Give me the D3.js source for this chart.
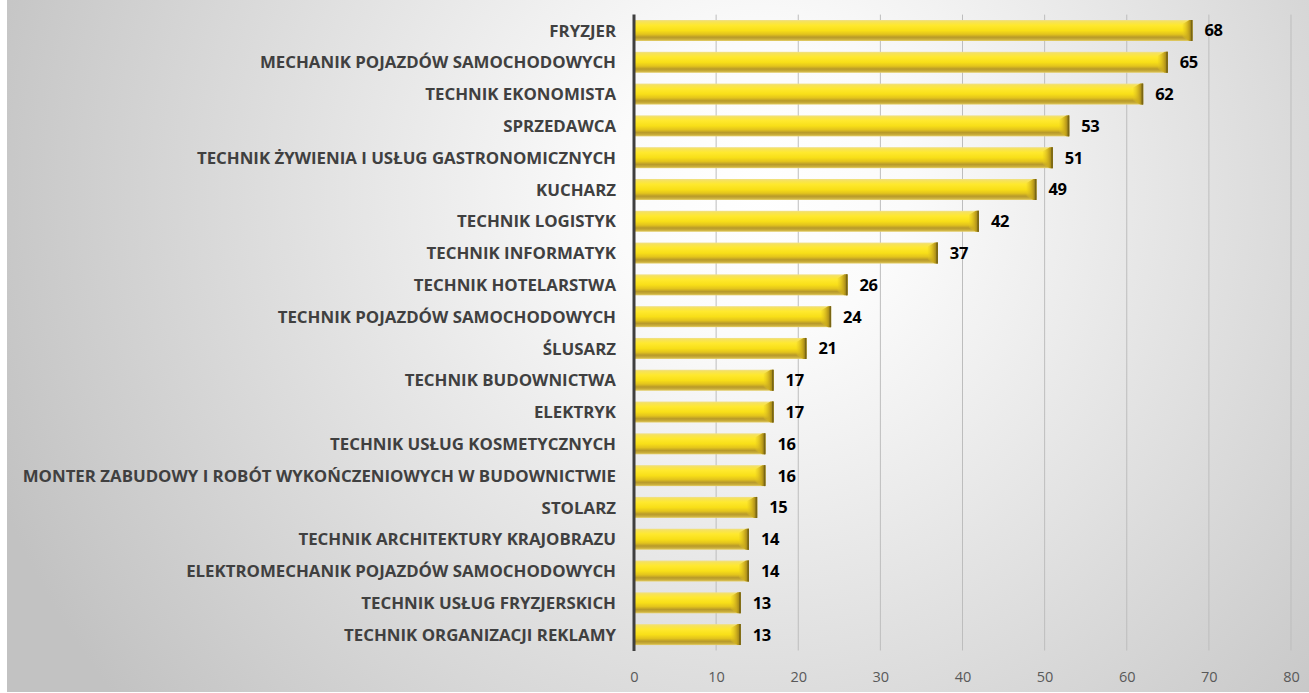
<!DOCTYPE html>
<html><head><meta charset="utf-8">
<script src="https://cdn.jsdelivr.net/npm/d3@7"></script>
<style>html,body{margin:0;padding:0;background:#fff;}svg{display:block;}</style>
</head><body>
<script>
const categories = [
  "FRYZJER",
  "MECHANIK POJAZDÓW SAMOCHODOWYCH",
  "TECHNIK EKONOMISTA",
  "SPRZEDAWCA",
  "TECHNIK ŻYWIENIA I USŁUG GASTRONOMICZNYCH",
  "KUCHARZ",
  "TECHNIK LOGISTYK",
  "TECHNIK INFORMATYK",
  "TECHNIK HOTELARSTWA",
  "TECHNIK POJAZDÓW SAMOCHODOWYCH",
  "ŚLUSARZ",
  "TECHNIK BUDOWNICTWA",
  "ELEKTRYK",
  "TECHNIK USŁUG KOSMETYCZNYCH",
  "MONTER ZABUDOWY I ROBÓT WYKOŃCZENIOWYCH W BUDOWNICTWIE",
  "STOLARZ",
  "TECHNIK ARCHITEKTURY KRAJOBRAZU",
  "ELEKTROMECHANIK POJAZDÓW SAMOCHODOWYCH",
  "TECHNIK USŁUG FRYZJERSKICH",
  "TECHNIK ORGANIZACJI REKLAMY"
];
const values = [68, 65, 62, 53, 51, 49, 42, 37, 26, 24, 21, 17, 17, 16, 16, 15, 14, 14, 13, 13];
const xTicks = [0, 10, 20, 30, 40, 50, 60, 70, 80];

const W = 1309, H = 693;
const svg = d3.select("body").append("svg").attr("width", W).attr("height", H);
const defs = svg.append("defs");

const bg = defs.append("radialGradient").attr("id", "bg")
  .attr("gradientUnits", "userSpaceOnUse")
  .attr("cx", 760).attr("cy", 190).attr("r", 820);
bg.append("stop").attr("offset", 0).attr("stop-color", "#ffffff");
bg.append("stop").attr("offset", 0.18).attr("stop-color", "#fbfbfb");
bg.append("stop").attr("offset", 1).attr("stop-color", "#c2c2c2");

const bar = defs.append("linearGradient").attr("id", "bar")
  .attr("x1", 0).attr("y1", 0).attr("x2", 0).attr("y2", 1);
[[0, "#efe08a"], [0.08, "#f6e25a"], [0.25, "#ffe92e"], [0.5, "#f8df18"],
 [0.68, "#e3c41c"], [0.82, "#b7992a"], [0.92, "#c9ad3a"], [1, "#e5cf6a"]]
  .forEach(([o, c]) => bar.append("stop").attr("offset", o).attr("stop-color", c));

const cap = defs.append("linearGradient").attr("id", "cap")
  .attr("x1", 0).attr("y1", 0).attr("x2", 1).attr("y2", 0);
cap.append("stop").attr("offset", 0).attr("stop-color", "#e8cc20").attr("stop-opacity", 0.2);
cap.append("stop").attr("offset", 0.6).attr("stop-color", "#c8a81c");
cap.append("stop").attr("offset", 1).attr("stop-color", "#8c7418");

svg.append("rect").attr("x", 7).attr("y", 0).attr("width", W - 7).attr("height", 692).attr("fill", "url(#bg)");

const x = d3.scaleLinear().domain([0, 80]).range([634, 1291]);
const y = d3.scaleBand().domain(categories).range([14.6, 650.5]).paddingInner(0.34).paddingOuter(0.17);

// gridlines
svg.append("g").selectAll("line").data(xTicks.filter(d => d > 0)).join("line")
  .attr("x1", d => x(d)).attr("x2", d => x(d))
  .attr("y1", 14.6).attr("y2", 650.5)
  .attr("stroke", "#bdbdbd").attr("stroke-width", 1);

// x axis labels
const xAxis = d3.axisBottom(x).tickValues(xTicks).tickSize(0).tickPadding(0);
const xg = svg.append("g").attr("transform", "translate(0,672)").call(xAxis);
xg.select(".domain").remove();
xg.selectAll("text").attr("font-family", "'Open Sans', sans-serif").attr("font-size", 14.5)
  .attr("fill", "#595959");

// bars
const g = svg.append("g");
const bh = y.bandwidth();
categories.forEach((c, i) => {
  const v = values[i];
  const x0 = x(0), x1 = x(v), top = y(c), bot = top + bh;
  g.append("rect").attr("x", x0).attr("y", top).attr("width", x1 - x0).attr("height", bh)
    .attr("fill", "url(#bar)");
  g.append("path")
    .attr("d", `M${x1 - 10},${top + 4} L${x1 - 3},${top} L${x1},${top} L${x1},${bot} L${x1 - 3},${bot} L${x1 - 10},${bot - 4} Z`)
    .attr("fill", "url(#cap)");
  g.append("line").attr("x1", x1 - 0.8).attr("x2", x1 - 0.8).attr("y1", top).attr("y2", bot)
    .attr("stroke", "#7a6614").attr("stroke-width", 1.6);
  g.append("text").attr("x", x1 + 12).attr("y", top + bh / 2).attr("dy", "0.36em")
    .attr("font-family", "'Open Sans', sans-serif").attr("font-weight", "bold")
    .attr("font-size", 16.5).attr("letter-spacing", -0.4).attr("fill", "#000").text(v);
});

// y axis line
svg.append("line").attr("x1", x(0)).attr("x2", x(0)).attr("y1", 14.6).attr("y2", 651)
  .attr("stroke", "#3f3f3f").attr("stroke-width", 3);

// category labels
const yAxis = d3.axisLeft(y).tickSize(0).tickPadding(0);
const yg = svg.append("g").attr("transform", "translate(616,0)").call(yAxis);
yg.select(".domain").remove();
yg.selectAll("text").attr("font-family", "'Open Sans', sans-serif").attr("font-weight", "bold")
  .attr("font-size", 13).attr("fill", "#404040").attr("dy", "0.36em");
// scale font so widest label spans the reference extent
let maxW = 0;
yg.selectAll("text").each(function () { maxW = Math.max(maxW, this.getComputedTextLength()); });
yg.selectAll("text").attr("font-size", 13 * 594 / maxW);
</script>
</body></html>
